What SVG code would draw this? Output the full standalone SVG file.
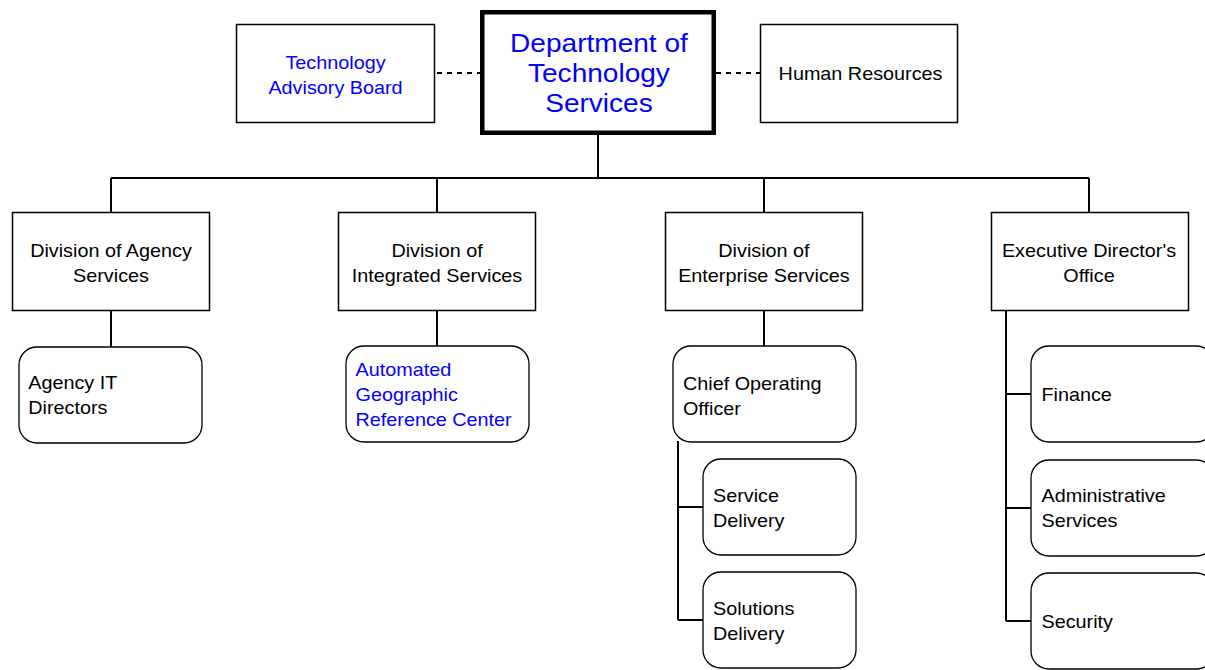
<svg xmlns="http://www.w3.org/2000/svg" width="1205" height="670" viewBox="0 0 1205 670">
<style>
  .box{fill:#fff;stroke:#000;stroke-width:1.5}
  .main{fill:#fff;stroke:#000;stroke-width:4.5}
  .rbox{fill:#fff;stroke:#000;stroke-width:1.3}
  .ln{fill:none;stroke:#000;stroke-width:2}
  .dash{fill:none;stroke:#000;stroke-width:2;stroke-dasharray:5 5}
  text{font-family:"Liberation Sans",Arial,sans-serif;font-size:18px;fill:#000}
  .c{text-anchor:middle}
  .blue{fill:#0000FF}
  .title{font-size:25.5px}
</style>
<rect width="1205" height="670" fill="#fff"/>
<g id="connectors">
  <path class="dash" d="M437 73H480M716 73H760"/>
  <path class="ln" d="M598 134V178M111 178H1089M111 178V212M437 178V212M764 178V212M1089 178V212"/>
  <path class="ln" d="M111 311V347M437 311V346M764 311V346"/>
  <path class="ln" d="M678 441V620M678 507H703M678 620H703"/>
  <path class="ln" d="M1006 311V621M1006 394H1031M1006 508H1031M1006 621H1031"/>
</g>
<g id="tab">
  <rect class="box" x="236.5" y="24.5" width="198" height="98"/>
  <text class="c blue" transform="scale(1.1 1)" x="305" y="69">Technology</text>
  <text class="c blue" transform="scale(1.1 1)" x="305" y="94">Advisory Board</text>
</g>
<g id="dts">
  <rect class="main" x="482.25" y="12.25" width="231.5" height="120.5"/>
  <text class="c blue title" transform="scale(1.1 1)" x="544.5" y="52">Department of</text>
  <text class="c blue title" transform="scale(1.1 1)" x="544.5" y="82">Technology</text>
  <text class="c blue title" transform="scale(1.1 1)" x="544.5" y="112">Services</text>
</g>
<g id="hr">
  <rect class="box" x="760.5" y="24.5" width="197" height="98"/>
  <text class="c" transform="scale(1.1 1)" x="782.3" y="80">Human Resources</text>
</g>
<g id="das">
  <rect class="box" x="12.5" y="212.5" width="197" height="98"/>
  <text class="c" transform="scale(1.1 1)" x="100.9" y="257">Division of Agency</text>
  <text class="c" transform="scale(1.1 1)" x="100.9" y="282">Services</text>
</g>
<g id="dis">
  <rect class="box" x="338.5" y="212.5" width="197" height="98"/>
  <text class="c" transform="scale(1.1 1)" x="397.3" y="257">Division of</text>
  <text class="c" transform="scale(1.1 1)" x="397.3" y="282">Integrated Services</text>
</g>
<g id="des">
  <rect class="box" x="665.5" y="212.5" width="197" height="98"/>
  <text class="c" transform="scale(1.1 1)" x="694.5" y="257">Division of</text>
  <text class="c" transform="scale(1.1 1)" x="694.5" y="282">Enterprise Services</text>
</g>
<g id="edo">
  <rect class="box" x="991.5" y="212.5" width="197" height="98"/>
  <text class="c" transform="scale(1.1 1)" x="990" y="257">Executive Director's</text>
  <text class="c" transform="scale(1.1 1)" x="990" y="282">Office</text>
</g>
<g id="agency-it">
  <rect class="rbox" x="19" y="347" width="183" height="96" rx="18"/>
  <text transform="scale(1.1 1)" x="25.7" y="389">Agency IT</text>
  <text transform="scale(1.1 1)" x="25.7" y="414">Directors</text>
</g>
<g id="agrc">
  <rect class="rbox" x="346" y="346" width="183" height="96" rx="18"/>
  <text class="blue" transform="scale(1.1 1)" x="323.2" y="376">Automated</text>
  <text class="blue" transform="scale(1.1 1)" x="323.2" y="401">Geographic</text>
  <text class="blue" transform="scale(1.1 1)" x="323.2" y="426">Reference Center</text>
</g>
<g id="coo">
  <rect class="rbox" x="673" y="346" width="183" height="96" rx="18"/>
  <text transform="scale(1.1 1)" x="620.9" y="390">Chief Operating</text>
  <text transform="scale(1.1 1)" x="620.9" y="415">Officer</text>
</g>
<g id="service-delivery">
  <rect class="rbox" x="703" y="459" width="153" height="96" rx="18"/>
  <text transform="scale(1.1 1)" x="648.2" y="502">Service</text>
  <text transform="scale(1.1 1)" x="648.2" y="527">Delivery</text>
</g>
<g id="solutions-delivery">
  <rect class="rbox" x="703" y="572" width="153" height="96" rx="18"/>
  <text transform="scale(1.1 1)" x="648.2" y="615">Solutions</text>
  <text transform="scale(1.1 1)" x="648.2" y="640">Delivery</text>
</g>
<g id="finance">
  <rect class="rbox" x="1031" y="346" width="183" height="96" rx="18"/>
  <text transform="scale(1.1 1)" x="946.8" y="401">Finance</text>
</g>
<g id="admin">
  <rect class="rbox" x="1031" y="460" width="183" height="96" rx="18"/>
  <text transform="scale(1.1 1)" x="946.8" y="502">Administrative</text>
  <text transform="scale(1.1 1)" x="946.8" y="527">Services</text>
</g>
<g id="security">
  <rect class="rbox" x="1031" y="573" width="183" height="96" rx="18"/>
  <text transform="scale(1.1 1)" x="946.8" y="628">Security</text>
</g>
</svg>
